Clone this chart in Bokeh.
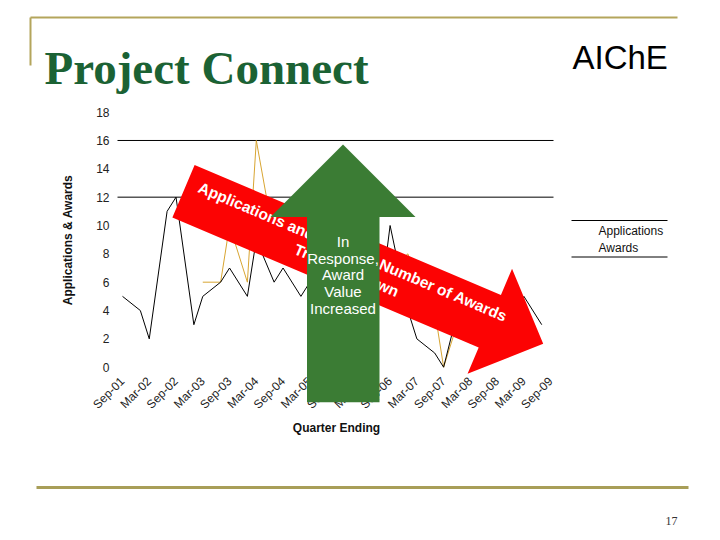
import math
from bokeh.plotting import figure
from bokeh.models import Range1d, LinearAxis, FixedTicker
from bokeh.core.properties import value
from bokeh.embed import file_html
from bokeh.resources import INLINE

# ---------------- data (months counted from Sep-01) ----------------
tick_months = [0, 6, 12, 18, 24, 30, 36, 42, 48, 54, 60, 66, 72, 78, 84, 90, 96]
tick_labels = ["Sep-01", "Mar-02", "Sep-02", "Mar-03", "Sep-03", "Mar-04", "Sep-04",
               "Mar-05", "Sep-05", "Mar-06", "Sep-06", "Mar-07", "Sep-07", "Mar-08",
               "Sep-08", "Mar-09", "Sep-09"]
y_ticks = [0, 2, 4, 6, 8, 10, 12, 14, 16, 18]
grid_values = [12, 16]

award_months = [0, 4, 6, 10, 12, 16, 18, 22, 24, 28, 30, 34, 36, 40, 42, 46, 48, 52, 54,
                58, 60, 64, 66, 70, 72, 76, 78, 82, 84, 88, 90, 94]
award_counts = [5, 4, 2, 11, 12, 3, 5, 6, 7, 5, 9, 6, 7, 5, 6, 5, 7, 6, 5,
                5, 10, 4, 2, 1, 0, 5, 4, 4, 3, 4, 5, 3]

app_months = [18, 22, 24, 28, 30, 34, 36, 40, 42, 46, 48, 52, 54, 58, 60, 64, 66, 70, 72,
              76, 78, 82, 84, 88, 90]
app_counts = [6, 6, 10, 6, 16, 9, 8, 9, 8, 8, 9, 8, 8, 7, 7, 8, 6, 4, 0,
              4, 4, 3, 4, 5, 3]

series_names = ["Applications", "Awards"]

# ---------------- geometry helpers (page pixel -> data) ----------------
X0, XS = 122.0, 4.46      # page x of month 0, px per month
Y0, YS = 366.7, 14.17     # page y of value 0, px per unit


def X(px):
    return (px - X0) / XS


def Y(py):
    return (Y0 - py) / YS


W, H = 712, 532
p = figure(width=W, height=H, output_backend="svg", toolbar_location=None,
           x_axis_type=None, y_axis_type=None, min_border=0,
           x_range=Range1d(X(0), X(W)), y_range=Range1d(Y(H), Y(0)))
p.outline_line_color = None
p.background_fill_color = "white"
p.border_fill_color = "white"

FONT = value("Liberation Sans")

# ---------------- axes ----------------
yaxis = LinearAxis(ticker=FixedTicker(ticks=y_ticks), bounds=(0, 18))
yaxis.fixed_location = X(117)
yaxis.axis_line_color = None
yaxis.major_tick_line_color = None
yaxis.minor_tick_line_color = None
yaxis.major_label_standoff = 2
yaxis.major_label_text_font = "Liberation Sans"
yaxis.major_label_text_font_size = "12px"
yaxis.major_label_text_color = "#222222"
yaxis.axis_label = "Applications & Awards"
yaxis.axis_label_text_font = "Liberation Sans"
yaxis.axis_label_text_font_size = "12px"
yaxis.axis_label_text_font_style = "bold"
yaxis.axis_label_text_color = "#111111"
yaxis.axis_label_standoff = 18
p.add_layout(yaxis, "left")

xaxis = LinearAxis(ticker=FixedTicker(ticks=tick_months), bounds=(0, 96))
xaxis.fixed_location = 0
xaxis.major_label_overrides = {m: lab for m, lab in zip(tick_months, tick_labels)}
xaxis.major_label_orientation = math.pi / 4
xaxis.axis_line_color = None
xaxis.major_tick_line_color = None
xaxis.minor_tick_line_color = None
xaxis.major_label_standoff = 6
xaxis.major_label_text_font = "Liberation Sans"
xaxis.major_label_text_font_size = "12px"
xaxis.major_label_text_color = "#222222"
xaxis.axis_label = "Quarter Ending"
xaxis.axis_label_text_font = "Liberation Sans"
xaxis.axis_label_text_font_size = "12px"
xaxis.axis_label_text_font_style = "bold"
xaxis.axis_label_text_color = "#111111"
xaxis.axis_label_standoff = 1
p.add_layout(xaxis, "below")

# grid lines (only 12 and 16 are drawn in the original)
p.segment(x0=[X(117)] * len(grid_values), x1=[X(553)] * len(grid_values),
          y0=grid_values, y1=grid_values, line_color="black", line_width=1)

# ---------------- data lines ----------------
p.line(app_months, app_counts, line_color="#d8a532", line_width=1)
p.line(award_months, award_counts, line_color="black", line_width=1)

# ---------------- red arrow ----------------
S = (183.0, 190.8)
TIP = (542.7, 343.3)
dx, dy = TIP[0] - S[0], TIP[1] - S[1]
length = math.hypot(dx, dy)
ux, uy = dx / length, dy / length
nx, ny = -uy, ux


def at(a, b):
    return (S[0] + a * ux + b * nx, S[1] + a * uy + b * ny)


half_shaft, half_head, head_len = 28.5, 57.0, 58.0
L = length - head_len
red_pts = [at(0, -half_shaft), at(L, -half_shaft), at(L, -half_head), at(length, 0),
           at(L, half_head), at(L, half_shaft), at(0, half_shaft)]
p.patch([X(a) for a, b in red_pts], [Y(b) for a, b in red_pts],
        fill_color="#fc0303", line_color=None, level="overlay")

ang = -math.atan2(dy, dx)
red_texts = [("Applications and Total", at(12.7, -10.4), "left"),
             ("Number of Awards", at(346.7, -10.4), "right"),
             ("Trending Down", at(181.0, 9.0), "center")]
for txt, (tx, ty), al in red_texts:
    p.text(x=[X(tx)], y=[Y(ty)], text=[txt], angle=ang, text_font=FONT,
           text_font_style="bold", text_font_size="15.5px", text_color="white",
           text_align=al, text_baseline="alphabetic", level="overlay")

# ---------------- green arrow ----------------
cx = 342.5
green_pts = [(cx, 144.0), (cx + 72.5, 216.5), (cx + 36.5, 216.5), (cx + 36.5, 401.7),
             (cx - 36.0, 401.7), (cx - 36.0, 216.5), (cx - 72.5, 216.5)]
p.patch([X(a) for a, b in green_pts], [Y(b) for a, b in green_pts],
        fill_color="#3b7c34", line_color=None, level="overlay")
green_lines = ["In", "Response,", "Award", "Value", "Increased"]
green_y = [240.7, 257.5, 274.3, 291.0, 307.7]
p.text(x=[X(cx)] * len(green_lines), y=[Y(v) for v in green_y], text=green_lines,
       text_font=FONT, text_font_size="15px", text_color="white",
       text_align="center", text_baseline="middle", level="overlay")

# ---------------- legend ----------------
p.segment(x0=[X(571), X(571)], x1=[X(667), X(667)], y0=[Y(220), Y(256.5)],
          y1=[Y(220), Y(256.5)], line_color="black", line_width=1)
p.text(x=[X(598), X(598)], y=[Y(230), Y(247)], text=series_names, text_font=FONT,
       text_font_size="12px", text_color="#111111", text_align="left",
       text_baseline="middle")

# ---------------- slide decorations ----------------
p.line([X(30), X(677)], [Y(17), Y(17)], line_color="#b4a55c", line_width=2)
p.line([X(30), X(30)], [Y(17), Y(65)], line_color="#b4a55c", line_width=2)
p.line([X(36), X(688)], [Y(487), Y(487)], line_color="#a89e58", line_width=3)
p.text(x=[X(44)], y=[Y(67)], text=["Project Connect"], text_font=value("Liberation Serif"),
       text_font_style="bold", text_font_size="47px", text_color="#1b6234",
       text_align="left", text_baseline="alphabetic")
p.text(x=[X(572)], y=[Y(57)], text=["AIChE"], text_font=FONT, text_font_size="33px",
       text_color="black", text_align="left", text_baseline="alphabetic")
p.text(x=[X(677)], y=[Y(520)], text=["17"], text_font=value("Liberation Serif"),
       text_font_size="12px", text_color="#333333", text_align="right",
       text_baseline="alphabetic")

open("out.html", "w").write(file_html(p, INLINE))
